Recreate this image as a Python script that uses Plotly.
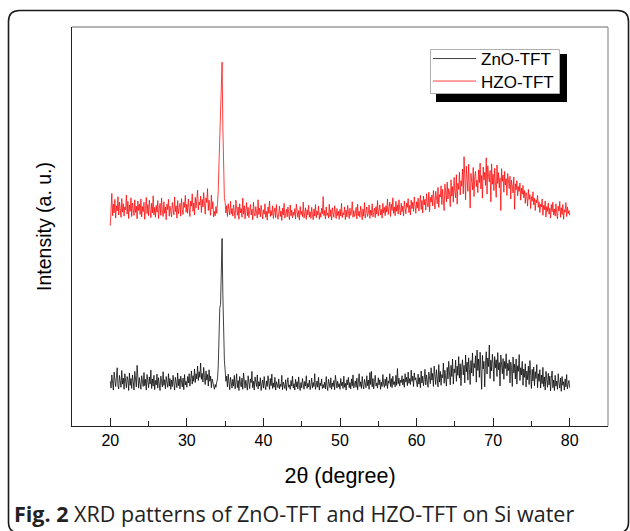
import numpy as np
import plotly.graph_objects as go

# ---------------- data ----------------
TWO_THETA_START = 20.0   # degrees
TWO_THETA_STEP = 0.1     # degrees
SERIES_NAMES = ["ZnO-TFT", "HZO-TFT"]
X_TICKS = [20, 30, 40, 50, 60, 70, 80]

# ZnO-TFT intensity (a.u.), 20.0 ... 80.0 deg, 20 points per row (2 deg)
zno_tft = [
    112, 95, 128, 104, 90, 135, 118, 99, 122, 146, 101, 93, 127, 110, 97, 139, 105, 120, 92, 131,      # 20-22
    108, 96, 124, 115, 89, 133, 102, 119, 94, 128, 111, 90, 137, 104, 98, 152, 113, 95, 121, 106,      # 22-24
    92, 126, 109, 99, 134, 101, 117, 90, 129, 112, 96, 123, 105, 140, 94, 118, 100, 127, 91, 114,      # 24-26
    103, 130, 95, 121, 108, 89, 125, 111, 98, 136, 102, 116, 93, 124, 107, 97, 131, 100, 119, 92,      # 26-28
    115, 99, 127, 104, 90, 122, 110, 96, 133, 101, 118, 93, 125, 106, 98, 120, 91, 129, 103, 112,      # 28-30
    97, 124, 108, 131, 100, 119, 138, 105, 126, 112, 143, 109, 131, 118, 150, 114, 136, 122, 158, 117, # 30-32
    132, 110, 147, 121, 104, 138, 115, 129, 100, 141, 112, 125, 96, 118, 106, 99, 92, 104, 97, 110,    # 32-34
    118, 150, 230, 295, 305, 400, 470, 330, 220, 165, 140, 112, 125, 98, 130, 104, 91, 122, 108, 95,   # 34-36
    117, 100, 127, 93, 110, 131, 96, 114, 89, 124, 105, 98, 120, 92, 133, 107, 95, 115, 101, 90,       # 36-38
    126, 103, 94, 118, 109, 137, 96, 112, 90, 123, 104, 99, 128, 93, 111, 100, 121, 89, 106, 115,      # 38-40
    95, 124, 102, 91, 113, 99, 126, 106, 92, 119, 101, 130, 94, 108, 97, 122, 90, 111, 104, 96,        # 40-42
    118, 93, 105, 99, 127, 91, 110, 102, 94, 116, 89, 108, 121, 97, 103, 92, 114, 100, 125, 95,        # 42-44
    106, 90, 117, 98, 111, 93, 123, 101, 89, 109, 96, 119, 104, 92, 112, 100, 126, 94, 107, 98,        # 44-46
    115, 91, 103, 120, 95, 109, 99, 131, 92, 106, 113, 97, 122, 90, 108, 101, 118, 94, 104, 96,        # 46-48
    110, 93, 124, 100, 89, 117, 105, 96, 121, 92, 108, 99, 114, 91, 127, 103, 95, 112, 98, 106,        # 48-50
    92, 119, 101, 110, 94, 125, 97, 107, 90, 116, 103, 122, 96, 109, 93, 118, 100, 128, 95, 105,       # 50-52
    113, 97, 120, 91, 106, 131, 99, 111, 94, 124, 102, 93, 117, 108, 96, 126, 101, 115, 92, 134,       # 52-54
    104, 137, 98, 119, 93, 112, 127, 100, 108, 95, 121, 103, 116, 92, 110, 99, 129, 105, 97, 118,      # 54-56
    101, 123, 94, 113, 107, 131, 99, 119, 96, 125, 104, 111, 98, 127, 102, 144, 106, 120, 100, 115,    # 56-58
    109, 126, 103, 118, 97, 131, 110, 122, 101, 135, 107, 119, 104, 140, 112, 125, 99, 133, 115, 121,  # 58-60
    112, 98, 130, 105, 121, 96, 138, 108, 125, 101, 117, 142, 103, 128, 113, 97, 135, 119, 106, 146,   # 60-62
    115, 132, 99, 150, 120, 104, 141, 126, 98, 154, 110, 137, 102, 129, 121, 158, 107, 140, 125, 100,  # 62-64
    147, 118, 162, 131, 103, 152, 124, 168, 105, 143, 133, 165, 112, 150, 127, 174, 120, 156, 101, 148,# 64-66
    166, 128, 152, 108, 178, 136, 160, 115, 171, 141, 104, 164, 133, 183, 125, 157, 146, 176, 110, 190,# 66-68
    139, 168, 122, 185, 151, 92, 177, 143, 162, 98, 158, 186, 130, 170, 149, 203, 119, 165, 138, 180,  # 68-70
    155, 112, 174, 146, 166, 124, 184, 141, 159, 100, 178, 150, 131, 169, 117, 162, 144, 181, 126, 157,# 70-72
    139, 166, 108, 160, 147, 99, 173, 133, 155, 118, 168, 105, 151, 137, 179, 114, 146, 128, 162, 102, # 72-74
    143, 122, 156, 98, 138, 116, 150, 104, 164, 127, 94, 142, 113, 148, 101, 136, 119, 154, 96, 131,   # 74-76
    112, 141, 95, 128, 106, 147, 99, 123, 90, 137, 110, 97, 132, 103, 125, 88, 120, 138, 96, 115,      # 76-78
    89, 127, 100, 113, 92, 131, 108, 95, 120, 87, 124, 102, 111, 90, 118, 98, 129, 93, 106, 114,       # 78-80
    96,                                                                                                # 80
]

# HZO-TFT intensity (a.u.), same grid; drawn shifted up by HZO_OFFSET
hzo_tft = [
    72, 118, 153, 97, 126, 104, 138, 91, 122, 109, 145, 99, 131, 115, 93, 140, 106, 127, 96, 119,      # 20-22
    112, 149, 101, 133, 90, 124, 108, 142, 95, 129, 117, 98, 137, 105, 121, 89, 134, 110, 126, 100,    # 22-24
    139, 94, 120, 107, 131, 88, 116, 143, 102, 125, 97, 136, 111, 92, 128, 104, 147, 99, 118, 93,      # 24-26
    123, 106, 135, 90, 114, 128, 98, 141, 109, 95, 132, 103, 119, 87, 126, 112, 138, 96, 121, 105,     # 26-28
    94, 130, 110, 99, 144, 107, 122, 91, 135, 102, 117, 128, 96, 140, 113, 100, 131, 118, 148, 106,    # 28-30
    126, 103, 139, 115, 95, 134, 121, 152, 108, 129, 99, 143, 117, 137, 161, 112, 131, 124, 146, 105,  # 30-32
    138, 119, 155, 127, 101, 142, 130, 165, 110, 136, 123, 98, 149, 114, 132, 94, 108, 97, 120, 103,   # 32-34
    128, 160, 230, 300, 360, 430, 482, 320, 200, 140, 131, 104, 122, 95, 127, 109, 99, 133, 102, 115,  # 34-36
    96, 124, 107, 90, 136, 112, 98, 119, 88, 127, 104, 115, 93, 141, 101, 122, 89, 110, 130, 97,       # 36-38
    118, 92, 106, 125, 99, 113, 87, 131, 104, 96, 120, 108, 91, 137, 100, 116, 94, 123, 105, 89,       # 38-40
    112, 101, 127, 93, 108, 86, 119, 103, 134, 95, 110, 98, 122, 90, 106, 117, 92, 125, 100, 88,       # 40-42
    104, 121, 95, 109, 85, 116, 99, 128, 91, 107, 113, 94, 119, 102, 87, 124, 97, 111, 92, 106,        # 42-44
    98, 115, 89, 126, 103, 93, 110, 86, 120, 100, 108, 95, 131, 91, 104, 117, 88, 112, 99, 123,        # 44-46
    94, 107, 90, 118, 101, 87, 114, 96, 125, 92, 109, 99, 121, 88, 105, 93, 116, 102, 145, 97,         # 46-48
    110, 89, 119, 98, 104, 91, 126, 95, 112, 86, 117, 100, 93, 122, 103, 90, 115, 97, 108, 88,         # 48-50
    113, 96, 128, 92, 105, 99, 119, 87, 111, 94, 123, 101, 90, 116, 98, 107, 132, 93, 110, 95,         # 50-52
    102, 118, 89, 126, 97, 108, 93, 121, 100, 87, 114, 96, 130, 91, 106, 119, 95, 103, 124, 90,        # 52-54
    111, 98, 127, 94, 105, 116, 92, 120, 101, 135, 96, 109, 124, 99, 113, 91, 128, 104, 118, 97,       # 54-56
    122, 106, 139, 100, 115, 131, 95, 126, 110, 142, 103, 119, 97, 133, 108, 124, 101, 137, 113, 99,   # 56-58
    128, 107, 121, 96, 134, 112, 102, 129, 118, 140, 105, 123, 99, 136, 115, 131, 108, 144, 120, 103,  # 58-60
    132, 116, 141, 109, 127, 148, 113, 135, 104, 146, 124, 138, 111, 152, 129, 119, 156, 107, 143, 131,# 60-62
    149, 122, 160, 136, 114, 158, 140, 127, 168, 118, 150, 144, 172, 125, 163, 137, 110, 176, 148, 132,# 62-64
    181, 139, 165, 154, 120, 187, 146, 170, 131, 193, 158, 142, 200, 126, 178, 163, 206, 149, 185, 171,# 64-66
    214, 152, 245, 168, 137, 221, 190, 158, 226, 175, 116, 203, 184, 162, 218, 145, 196, 208, 170, 186,# 66-68
    155, 212, 180, 229, 164, 198, 141, 219, 187, 206, 173, 242, 151, 222, 195, 182, 210, 132, 227, 176,# 68-70
    201, 160, 216, 189, 143, 224, 178, 205, 167, 192, 110, 215, 183, 199, 156, 208, 174, 190, 148, 203,# 70-72
    181, 165, 196, 139, 186, 172, 154, 194, 113, 177, 162, 185, 147, 170, 158, 179, 136, 166, 151, 173,# 72-74
    142, 160, 128, 155, 147, 121, 163, 138, 150, 115, 145, 133, 157, 124, 141, 110, 137, 129, 148, 118,# 74-76
    132, 105, 126, 119, 139, 98, 123, 112, 134, 94, 120, 108, 129, 101, 116, 91, 125, 107, 131, 99,    # 76-78
    114, 96, 127, 103, 89, 121, 109, 133, 93, 117, 100, 125, 88, 112, 106, 130, 95, 119, 102, 110,     # 78-80
    98,                                                                                                # 80
]
HZO_OFFSET = 430

# ---------------- figure ----------------
W, H = 630, 531
ML, MR, MT, MB = 72, 22, 27, 105
PW, PH = W - ML - MR, H - MT - MB


def px(x, y):
    """pixel -> paper coordinates"""
    return (x - ML) / PW, (H - MB - y) / PH


def grid(n):
    return np.round(TWO_THETA_START + TWO_THETA_STEP * np.arange(n), 2)


fig = go.Figure()
fig.add_trace(go.Scatter(
    x=grid(len(zno_tft)), y=zno_tft, name=SERIES_NAMES[0], mode="lines",
    line=dict(color="#000000", width=0.75), legend="legend",
))
fig.add_trace(go.Scatter(
    x=grid(len(hzo_tft)), y=np.array(hzo_tft) + HZO_OFFSET, name=SERIES_NAMES[1], mode="lines",
    line=dict(color="#ff0000", width=0.75), legend="legend2",
))

SANS = "Liberation Sans, Arial, sans-serif"
axis_font = dict(family=SANS, color="#000000")

fig.update_xaxes(
    range=[15, 85], tickvals=X_TICKS, ticktext=[str(t) for t in X_TICKS],
    ticks="inside", ticklen=8, tickwidth=1.2, tickcolor="#222222",
    minor=dict(dtick=5, tick0=0, ticks="inside", ticklen=5, tickwidth=1.2, tickcolor="#222222", showgrid=False),
    showline=True, linecolor="#222222", linewidth=1.3, mirror=False,
    showgrid=False, zeroline=False,
    tickfont=dict(size=16, **axis_font),
    title=dict(text="2θ (degree)", font=dict(size=21.5, **axis_font), standoff=19),
)
fig.update_yaxes(
    range=[0, 1000], showticklabels=False, ticks="",
    showline=True, linecolor="#222222", linewidth=1.3, mirror=False,
    showgrid=False, zeroline=False,
    title=dict(text="Intensity (a. u.)", font=dict(size=19.5, **axis_font), standoff=14),
)

shapes = []
# grey top and right frame lines
x0, y0 = px(ML, MT)
x1, y1 = px(W - MR, H - MB)
shapes.append(dict(type="line", xref="paper", yref="paper", x0=x0, y0=y0, x1=x1, y1=y0,
                   line=dict(color="#9a9a9a", width=1.3)))
shapes.append(dict(type="line", xref="paper", yref="paper", x0=x1, y0=y0, x1=x1, y1=y1,
                   line=dict(color="#9a9a9a", width=1.3)))
# legend shadow and box
sx0, sy0 = px(436, 54)
sx1, sy1 = px(567, 102)
shapes.append(dict(type="rect", xref="paper", yref="paper", x0=sx0, y0=sy0, x1=sx1, y1=sy1,
                   fillcolor="#000000", line=dict(width=0), layer="above"))
bx0, by0 = px(430.5, 49.5)
bx1, by1 = px(559.5, 93.5)
shapes.append(dict(type="rect", xref="paper", yref="paper", x0=bx0, y0=by0, x1=bx1, y1=by1,
                   fillcolor="#ffffff", line=dict(color="#b0b0b0", width=1), layer="above"))


# rounded outer panel border
def rounded_path(l, t, r, b, rad):
    def P(x, y):
        a, c = px(x, y)
        return f"{a:.5f},{c:.5f}"
    return (f"M {P(l, t + rad)} Q {P(l, t)} {P(l + rad, t)} "
            f"L {P(r - rad, t)} Q {P(r, t)} {P(r, t + rad)} "
            f"L {P(r, b - rad)} Q {P(r, b)} {P(r - rad, b)} "
            f"L {P(l + rad, b)} Q {P(l, b)} {P(l, b - rad)} Z")


shapes.append(dict(type="path", xref="paper", yref="paper",
                   path=rounded_path(8.5, 10.5, 628.5, 533, 11),
                   line=dict(color="#1a1a1a", width=1.6), fillcolor="rgba(0,0,0,0)"))

leg_common = dict(xanchor="left", yanchor="middle", bgcolor="rgba(0,0,0,0)", borderwidth=0,
                  font=dict(size=17, **axis_font), itemwidth=43)
cx, cy = px(12, 513)
fig.update_layout(
    width=W, height=H,
    margin=dict(l=ML, r=MR, t=MT, b=MB, autoexpand=False),
    paper_bgcolor="white", plot_bgcolor="white",
    showlegend=True,
    legend=dict(x=px(428, 0)[0], y=px(0, 59)[1], **leg_common),
    legend2=dict(x=px(428, 0)[0], y=px(0, 81.5)[1], **leg_common),
    shapes=shapes,
    annotations=[dict(
        xref="paper", yref="paper", x=cx, y=cy, xanchor="left", yanchor="middle",
        showarrow=False, align="left",
        text="<b>Fig. 2</b> XRD patterns of ZnO-TFT and HZO-TFT on Si water",
        font=dict(family="Open Sans", size=21.5, color="#222222"),
    )],
)

fig.write_html("out.html")
